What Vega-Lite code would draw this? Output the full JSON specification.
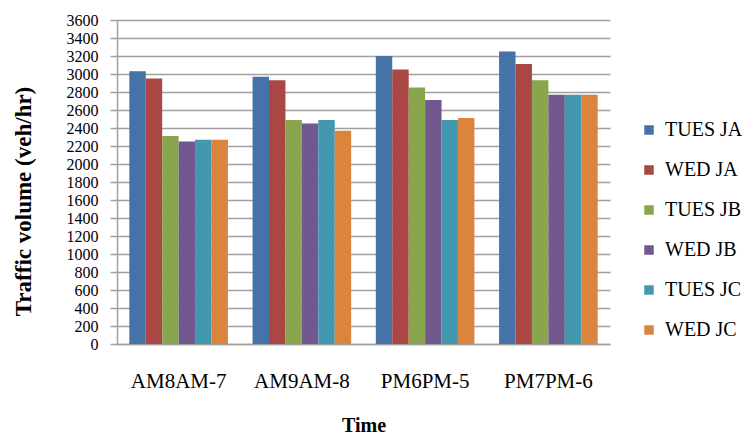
{
  "$schema": "https://vega.github.io/schema/vega-lite/v6.json",
  "width": 493,
  "height": 324,
  "autosize": {"type": "none"},
  "padding": {"left": 117, "top": 20, "right": 139, "bottom": 91},
  "background": "white",
  "config": {
    "view": {"stroke": null},
    "font": "Liberation Serif"
  },
  "data": {
    "values": [
      {"time": "AM8AM-7", "series": "TUES JA", "volume": 3030},
      {"time": "AM8AM-7", "series": "WED JA", "volume": 2950},
      {"time": "AM8AM-7", "series": "TUES JB", "volume": 2310},
      {"time": "AM8AM-7", "series": "WED JB", "volume": 2250},
      {"time": "AM8AM-7", "series": "TUES JC", "volume": 2270},
      {"time": "AM8AM-7", "series": "WED JC", "volume": 2270},
      {"time": "AM9AM-8", "series": "TUES JA", "volume": 2970},
      {"time": "AM9AM-8", "series": "WED JA", "volume": 2930},
      {"time": "AM9AM-8", "series": "TUES JB", "volume": 2490},
      {"time": "AM9AM-8", "series": "WED JB", "volume": 2450},
      {"time": "AM9AM-8", "series": "TUES JC", "volume": 2490},
      {"time": "AM9AM-8", "series": "WED JC", "volume": 2370},
      {"time": "PM6PM-5", "series": "TUES JA", "volume": 3200},
      {"time": "PM6PM-5", "series": "WED JA", "volume": 3050},
      {"time": "PM6PM-5", "series": "TUES JB", "volume": 2850},
      {"time": "PM6PM-5", "series": "WED JB", "volume": 2710},
      {"time": "PM6PM-5", "series": "TUES JC", "volume": 2490},
      {"time": "PM6PM-5", "series": "WED JC", "volume": 2510},
      {"time": "PM7PM-6", "series": "TUES JA", "volume": 3250},
      {"time": "PM7PM-6", "series": "WED JA", "volume": 3110},
      {"time": "PM7PM-6", "series": "TUES JB", "volume": 2930},
      {"time": "PM7PM-6", "series": "WED JB", "volume": 2770},
      {"time": "PM7PM-6", "series": "TUES JC", "volume": 2770},
      {"time": "PM7PM-6", "series": "WED JC", "volume": 2770}
    ]
  },
  "mark": {"type": "bar"},
  "encoding": {
    "x": {
      "field": "time",
      "type": "nominal",
      "sort": null,
      "scale": {"paddingInner": 0.2, "paddingOuter": 0.1},
      "axis": {
        "title": "Time",
        "titleFont": "Liberation Serif",
        "titleFontSize": 20,
        "titleFontWeight": "bold",
        "titleColor": "black",
        "titlePadding": 24,
        "labelAngle": 0,
        "labelFont": "Liberation Serif",
        "labelFontSize": 21,
        "labelFontWeight": "normal",
        "labelColor": "black",
        "labelPadding": 26,
        "ticks": false,
        "domainColor": "#a0a0a0",
        "domainWidth": 1.5
      }
    },
    "xOffset": {
      "field": "series",
      "type": "nominal",
      "sort": ["TUES JA", "WED JA", "TUES JB", "WED JB", "TUES JC", "WED JC"],
      "scale": {"paddingInner": 0, "paddingOuter": 0}
    },
    "y": {
      "field": "volume",
      "type": "quantitative",
      "scale": {"domain": [0, 3600], "nice": false},
      "axis": {
        "title": "Traffic volume (veh/hr)",
        "titleFont": "Liberation Serif",
        "titleFontSize": 23,
        "titleFontWeight": "bold",
        "titleColor": "black",
        "titleAngle": 270,
        "titleAlign": "center",
        "titleBaseline": "bottom",
        "titleY": 181,
        "titleX": -82,
        "values": [0, 200, 400, 600, 800, 1000, 1200, 1400, 1600, 1800, 2000, 2200, 2400, 2600, 2800, 3000, 3200, 3400, 3600],
        "format": "d",
        "labelOverlap": false,
        "labelFont": "Liberation Serif",
        "labelFontSize": 16,
        "labelFontWeight": "normal",
        "labelColor": "black",
        "labelPadding": 12,
        "tickSize": 7,
        "tickColor": "#a0a0a0",
        "tickWidth": 1.5,
        "domainColor": "#a0a0a0",
        "domainWidth": 1.5,
        "gridColor": "#a0a0a0",
        "gridWidth": 1.5
      }
    },
    "color": {
      "field": "series",
      "type": "nominal",
      "sort": ["TUES JA", "WED JA", "TUES JB", "WED JB", "TUES JC", "WED JC"],
      "scale": {
        "domain": ["TUES JA", "WED JA", "TUES JB", "WED JB", "TUES JC", "WED JC"],
        "range": ["#4572A7", "#AA4643", "#89A54E", "#71588F", "#4198AF", "#DB843D"]
      },
      "legend": {
        "title": null,
        "orient": "none",
        "legendX": 522,
        "legendY": 100,
        "symbolType": "square",
        "symbolSize": 90,
        "symbolStrokeWidth": 0,
        "labelFont": "Liberation Serif",
        "labelFontSize": 20,
        "labelFontWeight": "normal",
        "labelColor": "black",
        "rowPadding": 20,
        "labelOffset": 6
      }
    }
  }
}
